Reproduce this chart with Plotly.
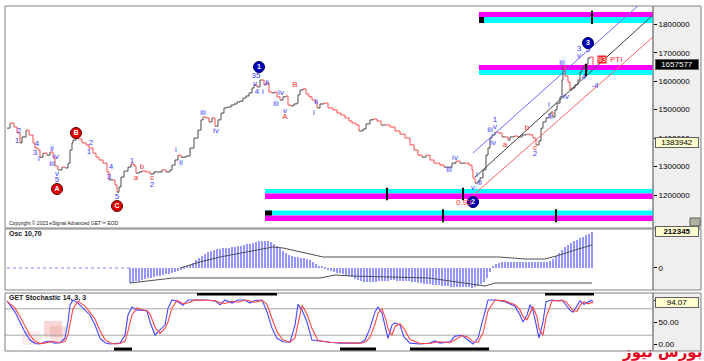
import plotly.graph_objects as go

# ---------------- DATA ----------------
# price path (bar index, close)
price_bar = [1, 4, 8, 11, 14, 16, 20, 23, 27, 29, 32, 34, 37, 41, 44, 47, 49, 52, 56, 59,
             62, 64, 66, 67, 70, 72, 76, 80, 83, 87, 90, 93, 97, 101, 103, 107, 109, 111, 113, 115,
             118, 122, 125, 128, 130, 133, 136, 140, 144, 148, 152, 156, 160, 164, 166, 169, 172, 175, 180, 184,
             188, 192, 195, 197, 200, 203, 206, 209, 212, 215, 218, 221, 225, 228, 231, 234, 237, 240, 243, 246,
             248, 251, 254, 256, 258, 260, 263, 266, 269, 271, 274, 277, 280, 282, 285, 288, 291, 292, 294, 297,
             300, 303, 306, 309, 311, 314, 318, 322, 327, 331, 335, 339, 343, 346, 350, 353, 357, 360, 364, 367,
             371, 375, 379, 384, 389, 394, 399, 404, 408, 412, 416, 420, 424, 428, 434, 438, 442, 446, 450, 454,
             459, 463, 466, 467, 469, 472, 474, 477, 480, 482, 484, 486, 489, 492, 496, 499, 502, 504, 508, 512,
             516, 520, 524, 527, 530, 533, 535, 537, 540, 543, 545, 547, 549, 551, 554, 556, 557, 559, 562, 564,
             566, 569, 572, 574, 576, 578, 580, 581, 582, 584, 587]
price_val = [1435000, 1453000, 1439000, 1418000, 1383000, 1404000, 1428000, 1411000, 1383000, 1365000,
             1358000, 1333000, 1347000, 1340000, 1351000, 1333000, 1302000, 1288000, 1298000, 1295000,
             1312000, 1358000, 1383000, 1393000, 1404000, 1397000, 1383000, 1376000, 1365000, 1347000,
             1333000, 1323000, 1312000, 1281000, 1253000, 1253000, 1235000, 1210000, 1228000, 1263000,
             1284000, 1298000, 1309000, 1302000, 1277000, 1281000, 1284000, 1281000, 1274000, 1281000,
             1281000, 1288000, 1281000, 1288000, 1305000, 1323000, 1340000, 1333000, 1337000, 1365000,
             1400000, 1428000, 1464000, 1474000, 1471000, 1457000, 1471000, 1442000, 1464000, 1488000,
             1506000, 1509000, 1516000, 1520000, 1527000, 1530000, 1541000, 1548000, 1559000, 1576000,
             1587000, 1580000, 1604000, 1604000, 1587000, 1594000, 1562000, 1559000, 1562000, 1545000,
             1534000, 1545000, 1548000, 1516000, 1513000, 1520000, 1523000, 1552000, 1569000, 1573000,
             1555000, 1545000, 1534000, 1527000, 1506000, 1520000, 1523000, 1506000, 1499000, 1488000,
             1481000, 1471000, 1460000, 1453000, 1446000, 1425000, 1432000, 1450000, 1464000, 1467000,
             1460000, 1446000, 1446000, 1439000, 1425000, 1414000, 1400000, 1376000, 1358000, 1340000,
             1333000, 1340000, 1323000, 1312000, 1305000, 1298000, 1298000, 1312000, 1319000, 1312000,
             1312000, 1305000, 1288000, 1260000, 1242000, 1249000, 1260000, 1288000, 1340000, 1365000,
             1400000, 1411000, 1421000, 1418000, 1404000, 1404000, 1393000, 1404000, 1407000, 1404000,
             1411000, 1414000, 1411000, 1400000, 1376000, 1390000, 1435000, 1457000, 1471000, 1485000,
             1492000, 1474000, 1499000, 1523000, 1545000, 1604000, 1653000, 1618000, 1597000, 1569000,
             1576000, 1587000, 1604000, 1632000, 1646000, 1657000, 1632000, 1660000, 1681000, 1685000,
             1657577]

# oscillator 10,70 histogram (thousands), one bar every 3 bars from bar 124
osc_first_bar = 124
osc_vals = [-88.5, -82.6, -76.7, -73.8, -70.8, -64.9, -59.0, -56.1, -53.1, -47.2,
            -44.3, -41.3, -35.4, -32.5, -29.5, -23.6, -17.7, -11.8, -3.0, 5.9,
            17.7, 29.5, 47.2, 59.0, 70.8, 82.6, 94.4, 100.3, 106.2, 109.2,
            112.1, 115.1, 118.0, 118.0, 121.0, 123.9, 126.9, 129.8, 135.7, 138.7,
            141.6, 147.5, 153.4, 156.4, 159.3, 159.3, 156.4, 150.5, 141.6, 129.8,
            118.0, 100.3, 88.5, 76.7, 70.8, 64.9, 62.0, 59.0, 56.1, 53.1,
            47.2, 35.4, 23.6, 11.8, 5.9, -1.0, -11.8, -17.7, -23.6, -26.6,
            -29.5, -35.4, -41.3, -47.2, -53.1, -64.9, -70.8, -76.7, -82.6, -82.6,
            -82.6, -82.6, -79.7, -76.7, -76.7, -76.7, -73.8, -70.8, -70.8, -73.8,
            -73.8, -73.8, -76.7, -76.7, -79.7, -82.6, -85.6, -88.5, -91.5, -94.4,
            -94.4, -97.4, -100.3, -100.3, -103.3, -106.2, -106.2, -109.2, -112.1, -112.1,
            -112.1, -112.1, -112.1, -112.1, -115.1, -112.1, -106.2, -94.4, -82.6, -59.0,
            -23.6, 5.9, 23.6, 29.5, 35.4, 35.4, 35.4, 35.4, 35.4, 35.4,
            35.4, 35.4, 35.4, 35.4, 35.4, 35.4, 35.4, 32.5, 32.5, 35.4,
            41.3, 53.1, 70.8, 88.5, 106.2, 123.9, 135.7, 147.5, 156.4, 165.2,
            174.1, 182.9, 191.8, 200.6, 212.3]
osc_upper_bar = [267, 277, 317, 493, 519, 539]
osc_upper_val = [123.9, 118.0, 64.9, 64.9, 53.1, 53.1]
osc_lower_bar = [124, 167, 314, 329, 346, 423, 479, 489, 586]
osc_lower_val = [-88.5, -59.0, -59.0, -41.3, -47.2, -59.0, -106.2, -88.5, -88.5]
osc_sig_bar = [174, 194, 214, 234, 254, 267]
osc_sig_val = [0.0, 35.4, 64.9, 88.5, 112.1, 123.9]
osc_sig2_bar = [539, 554, 569, 586]
osc_sig2_val = [53.1, 76.7, 106.0, 135.7]

# GET stochastic 14,3,3
stoch_bar = [1, 9, 14, 19, 24, 29, 34, 39, 44, 49, 54, 59, 62, 64, 67, 72, 79, 84, 89, 94,
             99, 104, 109, 114, 119, 122, 126, 131, 136, 141, 144, 149, 154, 159, 162, 166, 171, 177, 182, 189,
             199, 209, 214, 219, 226, 232, 239, 244, 249, 256, 261, 266, 271, 277, 284, 289, 292, 296, 301, 306,
             312, 319, 324, 334, 344, 354, 359, 364, 369, 372, 376, 380, 382, 386, 389, 394, 398, 404, 414, 424,
             429, 434, 444, 449, 456, 462, 467, 472, 477, 482, 489, 499, 504, 509, 514, 517, 521, 524, 527, 531,
             533, 537, 540, 546, 552, 556, 560, 564, 567, 571, 574, 578, 582, 585, 587]
stoch_k = [98, 73, 50, 27, 9, 1, 0, 5, 6, 2, 3, 13, 50, 88, 100, 93, 77, 66, 43, 13,
           3, 0, 1, 2, 20, 66, 84, 77, 77, 75, 50, 20, 32, 43, 81, 100, 97, 88, 100, 100,
           100, 98, 89, 100, 93, 100, 100, 93, 99, 100, 73, 36, 13, 5, 4, 43, 90, 77, 50, 9,
           7, 4, 4, 2, 2, 2, 9, 36, 73, 84, 70, 27, 13, 43, 48, 43, 16, 2, 0, 2,
           7, 2, 5, 18, 20, 9, 0, 13, 59, 100, 100, 96, 91, 86, 66, 50, 66, 89, 77, 36,
           14, 50, 96, 100, 98, 100, 89, 77, 72, 88, 98, 90, 95, 99, 97]
stoch_d = [97, 82, 62, 40, 20, 6, 1, 2, 5, 5, 3, 6, 20, 45, 80, 97, 86, 72, 57, 30,
           10, 3, 0, 1, 6, 30, 66, 82, 78, 76, 68, 38, 24, 36, 50, 82, 99, 92, 93, 100,
           100, 99, 94, 92, 97, 95, 100, 97, 95, 99, 90, 58, 28, 9, 4, 14, 45, 88, 68, 35,
           8, 6, 4, 3, 2, 2, 4, 15, 45, 70, 80, 55, 35, 20, 40, 46, 35, 10, 1, 1,
           4, 5, 3, 10, 19, 16, 5, 4, 25, 75, 100, 98, 94, 89, 78, 62, 55, 72, 85, 62,
           35, 20, 60, 98, 99, 99, 96, 85, 76, 74, 88, 96, 91, 94, 94]
stoch_top_bars = [(191, 271), (539, 588)]
stoch_bot_bars = [(108, 126), (334, 370), (404, 483)]

# Elliott wave labels
blue_lbl_text = ["2", "1", "4", "3", "i", "ii", "iv", "iii", "v", "5",
                 "2", "1", "4", "3", "5", "1", "2", "i", "ii", "iii",
                 "iv", "35", "v", "4", "ii", "i", "iv", "iii", "v", "ii",
                 "i", "iv", "iii", "v", "i", "ii", "1", "v", "iii", "iv",
                 "2", "i", "ii", "iii", "iv", "3", "v", "5", "4", "-4"]
blue_lbl_bar = [13, 11, 31, 29, 33, 46, 50, 46, 51, 51, 85, 83, 105, 103, 111, 126, 146, 170, 175, 197,
                210, 250, 249, 251, 261, 257, 275, 270, 279, 310, 308, 449, 443, 467, 471, 474, 489, 489, 484, 487,
                529, 543, 545, 556, 560, 573, 573, 582, 578, 589]
blue_lbl_price = [1424900, 1389800, 1379200, 1347600, 1326500, 1361700, 1333500, 1309000, 1273800, 1252700,
                  1382800, 1351100, 1298400, 1263300, 1192900, 1319500, 1235100, 1358200, 1312400, 1488200,
                  1424900, 1618300, 1590100, 1562000, 1593600, 1562000, 1558500, 1519800, 1495200, 1526900,
                  1488200, 1330000, 1287800, 1224600, 1270300, 1242200, 1463600, 1439000, 1428400, 1382800,
                  1344100, 1516300, 1474100, 1664000, 1544400, 1713200, 1688600, 1709700, 1614800, 1583100]
red_lbl_text = ["A", "B", "a", "b", "c", "a", "b", "c"]
red_lbl_bar = [279, 289, 130, 136, 146, 499, 521, 529]
red_lbl_price = [1474100, 1586600, 1259700, 1298400, 1259700, 1375700, 1435500, 1365200]
circ_text = ["A", "B", "C", "1", "2", "3"]
circ_bar = [51, 70, 111, 253, 467, 582]
circ_price = [1221100, 1417900, 1161300, 1649900, 1175400, 1734300]
circ_kind = ["r", "r", "r", "b", "b", "b"]

# channel lines (bar0, price0, bar1, price1)
chan_blue = (467, 1347400, 634, 1871400)
chan_black = (469, 1263000, 647, 1832700)
chan_red = (464, 1189400, 647, 1755400)

# GET bands: (bar_start, top, mid, bottom, top_colour, bottom_colour, tick bars)
bands = [
    (473, 1843200, 1825600, 1804600, "#ff00ff", "#00ffff", [586]),
    (473, 1656900, 1639300, 1621700, "#ff00ff", "#00ffff", [580]),
    (259, 1221100, 1205200, 1185900, "#00ffff", "#ff00ff", [381, 457]),
    (259, 1145500, 1127900, 1108600, "#00ffff", "#ff00ff", [437, 550]),
]
last_price = 1657577
cursor_price = 1383942
osc_last_label = "212345"
stoch_last = 94.07

# ---------------- FIGURE ----------------
X0, X1 = -1, 647
W, H = 704, 361
ML, MR, MT, MB = 5, 51, 6, 10
PW, PH = W - ML - MR, H - MT - MB


def px(xp):
    return (xp - ML) / PW


def py(yp):
    return (H - MB - yp) / PH


FONT = "Arial, Liberation Sans, sans-serif"
BLUE = "#3c3cff"
RED = "#ff3030"

fig = go.Figure()

# price, split into rising (gray) and falling (red) steps
up_x, up_y, dn_x, dn_y = [], [], [], []
for i in range(len(price_bar) - 1):
    tx, ty = (dn_x, dn_y) if price_val[i + 1] < price_val[i] else (up_x, up_y)
    tx += [price_bar[i], price_bar[i + 1], None]
    ty += [price_val[i], price_val[i + 1], None]
fig.add_trace(go.Scatter(x=up_x, y=up_y, mode="lines", line=dict(color="#4a4a4a", width=1, shape="hv"),
                         hoverinfo="skip", yaxis="y"))
fig.add_trace(go.Scatter(x=dn_x, y=dn_y, mode="lines", line=dict(color="#ff4a4a", width=1, shape="hv"),
                         hoverinfo="skip", yaxis="y"))

# channels
for (b0, p0, b1, p1), col in [(chan_blue, "#6a6aff"), (chan_black, "#404040"), (chan_red, "#ff6060")]:
    fig.add_trace(go.Scatter(x=[b0, b1], y=[p0, p1], mode="lines", line=dict(color=col, width=1),
                             hoverinfo="skip", yaxis="y"))

# wave labels
fig.add_trace(go.Scatter(x=blue_lbl_bar, y=blue_lbl_price, mode="text", text=blue_lbl_text,
                         textfont=dict(color=BLUE, size=8, family=FONT), cliponaxis=False, yaxis="y"))
fig.add_trace(go.Scatter(x=red_lbl_bar, y=red_lbl_price, mode="text", text=red_lbl_text,
                         textfont=dict(color=RED, size=8, family=FONT), cliponaxis=False, yaxis="y"))
fig.add_trace(go.Scatter(
    x=circ_bar, y=circ_price, mode="markers+text", text=["<b>%s</b>" % t for t in circ_text],
    textposition="middle center",
    marker=dict(size=11, color=["#e00000" if k == "r" else "#0000b8" for k in circ_kind],
                line=dict(color=["#600000" if k == "r" else "#000060" for k in circ_kind], width=1)),
    textfont=dict(color="white", size=7, family=FONT), cliponaxis=False, yaxis="y"))

# oscillator
osc_bar = [osc_first_bar + 3 * i for i in range(len(osc_vals))]
fig.add_trace(go.Bar(x=osc_bar, y=osc_vals, width=1.9, marker=dict(color="#9696ff", line=dict(width=0)),
                     yaxis="y2", hoverinfo="skip"))
for bx, by in [(osc_upper_bar, osc_upper_val), (osc_lower_bar, osc_lower_val),
               (osc_sig_bar, osc_sig_val), (osc_sig2_bar, osc_sig2_val)]:
    fig.add_trace(go.Scatter(x=bx, y=by, mode="lines", line=dict(color="#505050", width=1),
                             yaxis="y2", hoverinfo="skip"))

# stochastic
fig.add_trace(go.Scatter(x=stoch_bar, y=stoch_k, mode="lines", line=dict(color="#4646ff", width=1.1),
                         yaxis="y3", hoverinfo="skip"))
fig.add_trace(go.Scatter(x=stoch_bar, y=stoch_d, mode="lines", line=dict(color="#ff4646", width=1.1),
                         yaxis="y3", hoverinfo="skip"))

shapes = []
# panel frames and right label areas
for top, bot in [(6, 228), (229, 290), (293, 351)]:
    shapes.append(dict(type="rect", xref="paper", yref="paper", x0=px(653), x1=px(701), y0=py(bot), y1=py(top),
                       fillcolor="#efefef", line=dict(color="#808080", width=1), layer="below"))
    shapes.append(dict(type="rect", xref="paper", yref="paper", x0=px(5), x1=px(653), y0=py(bot), y1=py(top),
                       line=dict(color="#808080", width=1)))
# faint watermark logo in the stochastic pane
for x0, y0, x1, y1, op in [(44, 321, 62, 337, 0.28), (50, 326, 66, 341, 0.2), (22, 331, 40, 345, 0.12)]:
    shapes.append(dict(type="rect", xref="paper", yref="paper", x0=px(x0), x1=px(x1), y0=py(y1), y1=py(y0),
                       fillcolor="#e87070", opacity=op, line=dict(width=0), layer="below"))
# bands
for b0, top, mid, bot, c_top, c_bot, ticks in bands:
    shapes.append(dict(type="rect", xref="x", yref="y", x0=b0, x1=X1, y0=mid, y1=top, fillcolor=c_top,
                       line=dict(width=0), layer="below"))
    shapes.append(dict(type="rect", xref="x", yref="y", x0=b0, x1=X1, y0=bot, y1=mid, fillcolor=c_bot,
                       line=dict(width=0), layer="below"))
    for t in ticks:
        shapes.append(dict(type="line", xref="x", yref="y", x0=t, x1=t, y0=bot - 4000, y1=top + 4000,
                           line=dict(color="black", width=2)))
# black squares at band starts
shapes.append(dict(type="rect", xref="x", yref="y", x0=473, x1=478, y0=1804600, y1=1825600,
                   fillcolor="black", line=dict(width=0)))
shapes.append(dict(type="rect", xref="x", yref="y", x0=259, x1=266, y0=1127900, y1=1145500,
                   fillcolor="black", line=dict(width=0)))
# osc dotted zero before histogram
shapes.append(dict(type="line", xref="x", yref="y2", x0=1, x1=osc_first_bar, y0=0, y1=0,
                   line=dict(color="#8585ff", width=1, dash="dot")))
# stochastic levels
for lv in (20, 80):
    shapes.append(dict(type="line", xref="x", yref="y3", x0=X0, x1=X1, y0=lv, y1=lv,
                       line=dict(color="#a8a8a8", width=1), layer="below"))
for a, b in stoch_top_bars:
    shapes.append(dict(type="line", xref="x", yref="y3", x0=a, x1=b, y0=113.5, y1=113.5,
                       line=dict(color="black", width=3)))
for a, b in stoch_bot_bars:
    shapes.append(dict(type="line", xref="x", yref="y3", x0=a, x1=b, y0=-11.5, y1=-11.5,
                       line=dict(color="black", width=3)))
# small button at bottom right of price panel
shapes.append(dict(type="rect", xref="paper", yref="paper", x0=px(690), x1=px(700), y0=py(226), y1=py(218),
                   fillcolor="#b0b0a0", line=dict(color="#606060", width=1)))

annotations = []


def label_box(yref, yv, text, bg, fg, bold=False):
    annotations.append(dict(xref="paper", yref=yref, x=px(655), y=yv, xanchor="left", yanchor="middle",
                            text=("<b>%s</b>" % text) if bold else text, showarrow=False, width=42,
                            bgcolor=bg, bordercolor="#606060", borderwidth=1, borderpad=0,
                            font=dict(size=8, color=fg, family=FONT)))


label_box("y", last_price, str(last_price), "black", "white")
label_box("y", cursor_price, str(cursor_price), "#ffffd0", "black")
label_box("y2", float(osc_last_label) / 1000.0, osc_last_label, "#ffffd0", "black", bold=True)
label_box("y3", stoch_last, "%.2f" % stoch_last, "#ffffd0", "black")

annotations += [
    dict(xref="paper", yref="paper", x=px(7), y=py(223), xanchor="left", yanchor="middle", showarrow=False,
         text="Copyright © 2023 eSignal Advanced GET™ EOD", font=dict(size=5, color="#202020", family=FONT)),
    dict(xref="paper", yref="paper", x=px(7), y=py(234), xanchor="left", yanchor="middle", showarrow=False,
         text="<b>Osc 10,70</b>", font=dict(size=7, color="#202020", family=FONT)),
    dict(xref="paper", yref="paper", x=px(7), y=py(298), xanchor="left", yanchor="middle", showarrow=False,
         text="<b>GET Stochastic 14, 3, 3</b>", font=dict(size=7, color="#202020", family=FONT)),
    dict(xref="x", yref="y", x=468, y=1175400, xanchor="right", yanchor="middle", showarrow=False,
         text="0.93", font=dict(size=8, color=RED, family=FONT)),
    dict(xref="x", yref="y", x=591, y=1678000, xanchor="left", yanchor="middle", showarrow=False,
         text="93", bgcolor="#ff2020", borderpad=0, font=dict(size=7, color="white", family=FONT)),
    dict(xref="x", yref="y", x=602, y=1678000, xanchor="left", yanchor="middle", showarrow=False,
         text="PTI", font=dict(size=8, color=RED, family=FONT)),
    dict(xref="paper", yref="paper", x=px(704), y=py(363), xanchor="right", yanchor="bottom", showarrow=False,
         text="<b>بورس نیوز</b>", font=dict(size=15, color="#e4001c", family="DejaVu Sans")),
]

fig.update_layout(
    width=W, height=H, margin=dict(l=ML, r=MR, t=MT, b=MB, pad=0),
    paper_bgcolor="white", plot_bgcolor="white", showlegend=False, bargap=0,
    font=dict(family=FONT, size=8, color="black"),
    xaxis=dict(range=[X0, X1], visible=False, domain=[0, 1], anchor="y3"),
    yaxis=dict(domain=[py(228), 1], range=[1084000, 1864300], side="right", anchor="x",
               tickvals=[1200000, 1300000, 1400000, 1500000, 1600000, 1700000, 1800000],
               tickformat="d", ticks="outside", ticklen=3, tickcolor="black",
               showgrid=False, zeroline=False, showline=False, tickfont=dict(size=8)),
    yaxis2=dict(domain=[py(290), py(229)], range=[-129.8, 230], side="right", anchor="x",
                tickvals=[0], ticktext=["0"], ticks="outside", ticklen=3, tickcolor="black",
                showgrid=False, zeroline=False, showline=False, tickfont=dict(size=8)),
    yaxis3=dict(domain=[0, py(293)], range=[-15.9, 115.9], side="right", anchor="x",
                tickvals=[0, 50, 100], ticktext=["0.00", "50.00", "100.00"], ticks="outside", ticklen=3,
                tickcolor="black", showgrid=False, zeroline=False, showline=False, tickfont=dict(size=8)),
    shapes=shapes, annotations=annotations,
)

fig.write_html("out.html")
